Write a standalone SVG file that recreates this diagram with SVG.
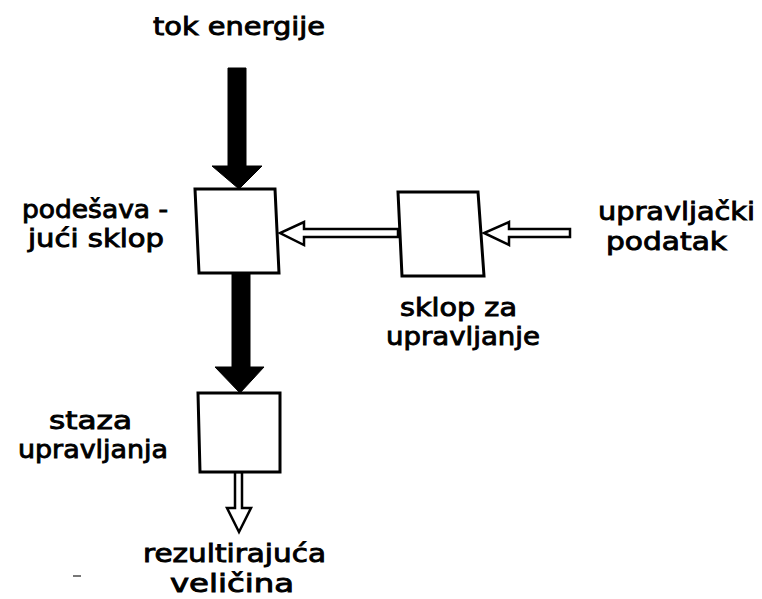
<svg xmlns="http://www.w3.org/2000/svg" width="762" height="599" viewBox="0 0 762 599">
<style>
.box{fill:#fff;stroke:#000;stroke-width:3;stroke-linejoin:miter}
.solid{fill:#000;stroke:#000;stroke-width:1}
.hollow{fill:#fff;stroke:#000;stroke-width:2.5;stroke-linejoin:miter}
text{font-family:"DejaVu Sans","Liberation Sans",sans-serif;font-size:25px;fill:#000;stroke:#000;stroke-width:0.9}
</style>
<rect width="762" height="599" fill="#fff"/>
<g id="connectors">
<polygon class="solid" points="228,68 246,68 246,166 262,166 239,189 212,166 228,166"/>
<polygon class="solid" points="232,273 250,273 250,367 264,367 240,393 215,367 232,367"/>
<polygon class="hollow" points="398,229 304,229 304,222 280,233 304,245 304,237 398,237"/>
<polygon class="hollow" points="570,229 509,229 509,222 484,233 509,245 509,237 570,237"/>
<polygon class="hollow" points="235,472 235,508 227,508 239,532 251,508 242,508 242,472"/>
</g>
<g id="podesavajuci-sklop">
<polygon class="box" points="195,189 275,189 279,273 199,273"/>
<text x="22" y="218" textLength="146" lengthAdjust="spacingAndGlyphs">podešava -</text>
<text x="28" y="247" textLength="136" lengthAdjust="spacingAndGlyphs">jući sklop</text>
</g>
<g id="sklop-za-upravljanje">
<polygon class="box" points="398,192 478,192 484,276 402,276"/>
<text x="400" y="316" textLength="117" lengthAdjust="spacingAndGlyphs">sklop za</text>
<text x="386" y="345" textLength="154" lengthAdjust="spacingAndGlyphs">upravljanje</text>
</g>
<g id="staza-upravljanja">
<polygon class="box" points="198,393 280,393 280,472 200,472"/>
<text x="49" y="429" textLength="83" lengthAdjust="spacingAndGlyphs">staza</text>
<text x="18" y="458" textLength="150" lengthAdjust="spacingAndGlyphs">upravljanja</text>
</g>
<g id="tok-energije">
<text x="153" y="35" textLength="172" lengthAdjust="spacingAndGlyphs">tok energije</text>
</g>
<g id="upravljacki-podatak">
<text x="598" y="220" textLength="157" lengthAdjust="spacingAndGlyphs">upravljački</text>
<text x="606" y="250" textLength="121" lengthAdjust="spacingAndGlyphs">podatak</text>
</g>
<g id="rezultirajuca-velicina">
<text x="143" y="562" textLength="183" lengthAdjust="spacingAndGlyphs">rezultirajuća</text>
<text x="170" y="592" textLength="124" lengthAdjust="spacingAndGlyphs">veličina</text>
</g>
<line x1="73" y1="576" x2="81" y2="576" stroke="#777" stroke-width="2"/>
</svg>
